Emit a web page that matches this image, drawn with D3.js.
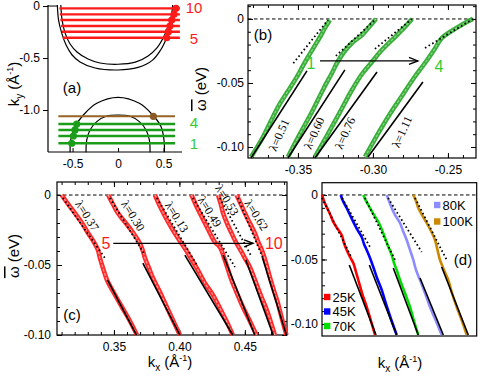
<!DOCTYPE html>
<html>
<head>
<meta charset="utf-8">
<script src="https://cdn.jsdelivr.net/npm/d3@7"></script>
<style>
body { margin: 0; background: #fff; }
svg { display: block; font-family: "Liberation Sans", Arial, sans-serif; }
</style>
</head>
<body>
<svg id="fig" width="487" height="377"></svg>
<script>
// ---------- panel (a): Fermi surface contours, cuts and kF points ----------
const fsUpperOuter = [[-0.667,0.01],[-0.654,-0.135],[-0.619,-0.26],[-0.571,-0.375],[-0.505,-0.471],[-0.418,-0.538],[-0.253,-0.596],[0,-0.615],
    [0.22,-0.59],[0.38,-0.52],[0.47,-0.42],[0.535,-0.305],[0.58,-0.2],[0.62,-0.1],[0.64,0.01]];
const fsUpperInner = [[-0.629,0.01],[-0.615,-0.135],[-0.582,-0.26],[-0.527,-0.365],[-0.451,-0.442],[-0.33,-0.51],[-0.198,-0.548],[0,-0.56],
    [0.19,-0.54],[0.33,-0.48],[0.43,-0.4],[0.5,-0.3],[0.55,-0.2],[0.585,-0.1],[0.6,0.01]];
const fsLowerOuter = [[-0.527,-1.407],[-0.52,-1.288],[-0.473,-1.16],[-0.381,-1.048],[-0.234,-0.936],[0,-0.878],
    [0.234,-0.936],[0.381,-1.048],[0.473,-1.16],[0.505,-1.288],[0.51,-1.407]];
const fsLowerInner = [[-0.352,-1.407],[-0.344,-1.288],[-0.308,-1.192],[-0.234,-1.112],[-0.124,-1.058],[0,-1.048],
    [0.124,-1.058],[0.234,-1.112],[0.308,-1.192],[0.344,-1.288],[0.352,-1.407]];

const redCutKy   = [-0.305,-0.247,-0.192,-0.135,-0.08,-0.022];   // cuts 5..10
const redCutFrom = [-0.608,-0.618,-0.627,-0.634,-0.64,-0.645];
const redCutTo   = 0.68;
const redKf      = [0.535,0.553,0.571,0.59,0.615,0.637];
const greenCutKy = [-1.32,-1.25,-1.192,-1.135];                   // cuts 1..4
const greenKf    = [-0.509,-0.491,-0.473,-0.454];
const greenCutFrom = -0.656, greenCutTo = 0.626;
const brownCutKy = -1.061, brownKf = 0.388;

// ---------- panel (b): dispersions along cuts 1..4 ----------
const bCurves = [
  [[-0.3813,-0.1078],[-0.3733,-0.0922],[-0.3633,-0.0688],[-0.3553,-0.0539],[-0.3507,-0.0453],[-0.3467,-0.0367],[-0.3433,-0.0297],[-0.3393,-0.0219],[-0.3353,-0.0141],[-0.3320,-0.007],[-0.3287,-0.0008]],
  [[-0.3567,-0.1078],[-0.3487,-0.0898],[-0.3407,-0.0727],[-0.3327,-0.0539],[-0.3273,-0.0422],[-0.3240,-0.0344],[-0.3193,-0.0258],[-0.3140,-0.0188],[-0.3073,-0.0125],[-0.3020,-0.0055],[-0.2980,0]],
  [[-0.3387,-0.1078],[-0.3300,-0.0898],[-0.3220,-0.0727],[-0.3140,-0.0555],[-0.3073,-0.043],[-0.3007,-0.0336],[-0.2953,-0.0258],[-0.2900,-0.0195],[-0.2853,-0.0141],[-0.2793,-0.007],[-0.2740,0]],
  [[-0.3053,-0.1078],[-0.2967,-0.0898],[-0.2887,-0.0742],[-0.2807,-0.0602],[-0.2727,-0.0461],[-0.2653,-0.0344],[-0.2593,-0.0242],[-0.2540,-0.0148],[-0.2453,-0.0078],[-0.2387,-0.0031],[-0.2333,0]]
];
const bFits = [
  [[-0.3813,-0.1086],[-0.3440,-0.0406]],
  [[-0.3567,-0.1086],[-0.3187,-0.0398]],
  [[-0.3387,-0.1086],[-0.2973,-0.0414]],
  [[-0.3033,-0.1078],[-0.2667,-0.0492]]
];
const bBare = [
  [[-0.3531,-0.0346],[-0.3300,-0.0008]],
  [[-0.3247,-0.0289],[-0.2980,0]],
  [[-0.2987,-0.0234],[-0.2740,0]],
  [[-0.2653,-0.0227],[-0.2333,0]]
];
const bLambda = ["λ=0.51","λ=0.60","λ=0.76","λ=1.11"];
const bLambdaAt = [[-0.3627,-0.0906],[-0.3393,-0.0891],[-0.3187,-0.0891],[-0.2807,-0.088]];

// ---------- panel (c): dispersions along cuts 5..10 ----------
const cCurves = [
  [[0.3101,0],[0.3149,-0.0064],[0.3202,-0.0129],[0.3256,-0.02],[0.3302,-0.0271],[0.3347,-0.0336],[0.3378,-0.0393],[0.3393,-0.045],[0.3416,-0.0521],[0.3447,-0.0607],[0.3500,-0.07],[0.3561,-0.08],[0.3622,-0.09],[0.3676,-0.1]],
  [[0.3456,0],[0.3492,-0.0064],[0.3530,-0.0129],[0.3584,-0.0193],[0.3637,-0.0257],[0.3683,-0.0321],[0.3714,-0.0379],[0.3737,-0.045],[0.3767,-0.0521],[0.3798,-0.0593],[0.3844,-0.0679],[0.3897,-0.0786],[0.3950,-0.0893],[0.4004,-0.1]],
  [[0.3813,0],[0.3851,-0.0079],[0.3897,-0.0164],[0.3950,-0.025],[0.4004,-0.0329],[0.4050,-0.0393],[0.4095,-0.0464],[0.4141,-0.0536],[0.4195,-0.0629],[0.4256,-0.0714],[0.4309,-0.0807],[0.4363,-0.0907],[0.4408,-0.1]],
  [[0.4093,0],[0.4126,-0.0071],[0.4156,-0.0129],[0.4195,-0.02],[0.4233,-0.0271],[0.4271,-0.0336],[0.4309,-0.0371],[0.4347,-0.0464],[0.4398,-0.0607],[0.4439,-0.07],[0.4485,-0.08],[0.4538,-0.09],[0.4589,-0.1]],
  [[0.4296,0],[0.4316,-0.0064],[0.4334,-0.0129],[0.4363,-0.02],[0.4398,-0.0271],[0.4431,-0.0336],[0.4475,-0.0407],[0.4508,-0.0464],[0.4538,-0.0514],[0.4569,-0.0586],[0.4592,-0.0643],[0.4630,-0.0736],[0.4668,-0.0821],[0.4698,-0.0907],[0.4729,-0.1]],
  [[0.4437,0],[0.4469,-0.0064],[0.4500,-0.0129],[0.4538,-0.02],[0.4576,-0.0271],[0.4599,-0.0329],[0.4630,-0.0393],[0.4660,-0.0479],[0.4691,-0.0586],[0.4721,-0.0679],[0.4752,-0.0771],[0.4782,-0.0879],[0.4818,-0.1]]
];
const cFits = [
  [[0.3450,-0.0607],[0.3673,-0.1]],
  [[0.3721,-0.0486],[0.4004,-0.1]],
  [[0.4042,-0.0429],[0.4408,-0.1]],
  [[0.4334,-0.0429],[0.4576,-0.1]],
  [[0.4508,-0.0464],[0.4716,-0.1]],
  [[0.4635,-0.045],[0.4818,-0.1]]
];
const cBare = [
  [[0.3110,-0.0021],[0.3431,-0.045]],
  [[0.3469,-0.0021],[0.3737,-0.0429]],
  [[0.3828,-0.0021],[0.4134,-0.05]],
  [[0.4103,-0.0021],[0.4424,-0.0514]],
  [[0.4309,-0.0021],[0.4553,-0.0443]],
  [[0.4447,-0.0021],[0.4637,-0.045]]
];
const cLambda = ["λ=0.37","λ=0.30","λ=0.13","λ=0.49","λ=0.53","λ=0.62"];
const cLambdaAt = [[0.3296,-0.0148],[0.3647,-0.0148],[0.3981,-0.0157],[0.4233,-0.0119],[0.4365,-0.0036],[0.4589,-0.0143]];

// ---------- panel (d): temperature dependence ----------
const temps = ["25K","45K","70K","80K","100K"];
const tempColors = ["#ff0000","#0000ff","#00dd00","#8c8cff","#cc8800"];
const dCurves = [
  [[0.300,0],[0.302,-0.0047],[0.3047,-0.0093],[0.308,-0.0147],[0.3113,-0.0209],[0.315,-0.0256],[0.3197,-0.031],[0.322,-0.0372],[0.3247,-0.0426],[0.328,-0.0481],[0.3313,-0.0527],[0.334,-0.0597],[0.3363,-0.0659],[0.340,-0.076],[0.3447,-0.0868],[0.349,-0.0977],[0.353,-0.1085]],
  [[0.3187,0],[0.321,-0.0047],[0.3247,-0.0101],[0.328,-0.0155],[0.3313,-0.0209],[0.335,-0.0264],[0.3397,-0.0326],[0.342,-0.038],[0.3447,-0.0426],[0.348,-0.0488],[0.3513,-0.0558],[0.355,-0.0643],[0.3597,-0.0736],[0.364,-0.0845],[0.369,-0.0961],[0.3747,-0.1085]],
  [[0.3413,0],[0.344,-0.0047],[0.348,-0.0101],[0.352,-0.0155],[0.3563,-0.0209],[0.360,-0.0271],[0.363,-0.0333],[0.366,-0.0395],[0.3697,-0.0465],[0.372,-0.0527],[0.3747,-0.0581],[0.378,-0.0659],[0.383,-0.076],[0.388,-0.0868],[0.392,-0.0977],[0.3963,-0.1085]],
  [[0.3647,0],[0.367,-0.0047],[0.3697,-0.0101],[0.373,-0.0155],[0.378,-0.0217],[0.381,-0.0279],[0.3847,-0.0349],[0.388,-0.0426],[0.3913,-0.0504],[0.394,-0.0581],[0.398,-0.0659],[0.403,-0.076],[0.408,-0.0868],[0.414,-0.0977],[0.4197,-0.1085]],
  [[0.3913,0],[0.394,-0.0047],[0.3963,-0.0101],[0.400,-0.0155],[0.4047,-0.0217],[0.409,-0.0279],[0.413,-0.0349],[0.4155,-0.0426],[0.418,-0.0504],[0.422,-0.0581],[0.4263,-0.0659],[0.430,-0.076],[0.4347,-0.0868],[0.440,-0.0977],[0.4447,-0.1085]]
];
const dFits = [
  [[0.3273,-0.0543],[0.354,-0.1085]],
  [[0.3473,-0.0543],[0.3747,-0.1085]],
  [[0.3713,-0.0566],[0.3963,-0.1085]],
  [[0.398,-0.0643],[0.4213,-0.1085]],
  [[0.4197,-0.0558],[0.4463,-0.1085]]
];
const dBare = [
  [[0.300,-0.0023],[0.3297,-0.0488]],
  [[0.320,-0.0023],[0.348,-0.0403]],
  [[0.343,-0.0023],[0.373,-0.0504]],
  [[0.366,-0.0023],[0.3997,-0.0442]],
  [[0.393,-0.0023],[0.4247,-0.0504]]
];

// ---------- helpers ----------
const svg = d3.select("#fig");
svg.append("rect").attr("width", 487).attr("height", 377).attr("fill", "#fff");
const fmt2 = d => d === 0 ? "0" : d.toFixed(2);
const fmt1 = d => d === 0 ? "0" : d.toFixed(1);

function axis(g, fn, scale, vals, size, fmt, pad, tx, ty) {
    const a = fn(scale).tickValues(vals).tickSize(size).tickSizeOuter(0).tickPadding(pad)
        .tickFormat(fmt || (() => ""));
    const gg = g.append("g").attr("transform", `translate(${tx},${ty})`).call(a);
    gg.attr("font-size", 12).attr("font-family", "Liberation Sans, Arial, sans-serif");
    gg.select(".domain").remove();
    gg.selectAll("line").attr("stroke", "#000").attr("stroke-width", 1);
    gg.selectAll("text").attr("fill", "#000");
    return gg;
}

// framed panel with inward ticks
function framed(x, y, o) {
    const g = svg.append("g");
    const [xl, xr] = x.range(), [yt, yb] = y.range();
    if (o.yMaj) {
        axis(g, d3.axisLeft, y, o.yMaj, -5, fmt2, o.yPad, xl, 0);
        axis(g, d3.axisLeft, y, o.yMin, -3, null, 0, xl, 0);
        if (o.right) {
            axis(g, d3.axisRight, y, o.yMaj, -5, null, 0, xr, 0);
            axis(g, d3.axisRight, y, o.yMin, -3, null, 0, xr, 0);
        }
    }
    if (o.xMaj) {
        axis(g, d3.axisBottom, x, o.xMaj, -5, o.xLabels ? fmt2 : null, 7, 0, yb);
        axis(g, d3.axisBottom, x, o.xMin, -3, null, 0, 0, yb);
        if (o.top) {
            axis(g, d3.axisTop, x, o.xMaj, -5, null, 0, 0, yt);
            axis(g, d3.axisTop, x, o.xMin, -3, null, 0, 0, yt);
        }
    }
    g.append("rect").attr("x", xl).attr("y", yt).attr("width", xr - xl).attr("height", yb - yt)
        .attr("fill", "none").attr("stroke", "#000").attr("stroke-width", 1.2);
    // zero-energy dashed line
    g.append("line").attr("x1", xl).attr("x2", xr).attr("y1", y(0)).attr("y2", y(0))
        .attr("stroke", "#000").attr("stroke-width", 1).attr("stroke-dasharray", "3.5,2.5");
    return g;
}

function seg(g, line, pts, style) {
    const p = g.append("path").attr("d", line(pts)).attr("fill", "none");
    Object.entries(style).forEach(([k, v]) => p.attr(k, v));
    return p;
}

function omegaLabel(x, y) {
    const t = svg.append("text").attr("font-size", 15).attr("text-anchor", "middle")
        .attr("transform", `translate(${x},${y}) rotate(-90)`);
    t.append("tspan").text("ω").style("text-decoration", "overline");
    t.append("tspan").text(" (eV)");
}

function kAxisLabel(x, y, sub, rotate) {
    const t = svg.append("text").attr("font-size", 15).attr("text-anchor", "middle")
        .attr("transform", `translate(${x},${y})` + (rotate ? " rotate(-90)" : ""));
    t.append("tspan").text("k");
    t.append("tspan").text(sub).attr("font-size", 10).attr("dy", 4);
    t.append("tspan").text(" (Å").attr("dy", -4);
    t.append("tspan").text("-1").attr("font-size", 9).attr("dy", -6);
    t.append("tspan").text(")").attr("dy", 6);
}

function arrow(g, x1, x2, y) {
    g.append("line").attr("x1", x1).attr("x2", x2).attr("y1", y).attr("y2", y)
        .attr("stroke", "#000").attr("stroke-width", 1.3);
    g.append("path").attr("d", `M${x2 - 9},${y - 3.5}L${x2},${y}L${x2 - 9},${y + 3.5}`)
        .attr("fill", "none").attr("stroke", "#000").attr("stroke-width", 1.3);
}

const fitStyle = { stroke: "#000", "stroke-width": 1.6 };
const bareStyle = { stroke: "#000", "stroke-width": 1.8, "stroke-dasharray": "1.6,2.6" };

// ---------- panel (a) ----------
{
    const x = d3.scaleLinear().domain([-0.77, 0.703]).range([48, 182]);
    const y = d3.scaleLinear().domain([0.01, -1.404]).range([5, 152]);
    const g = svg.append("g");
    const line = d3.line().x(d => x(d[0])).y(d => y(d[1])).curve(d3.curveCatmullRom);
    const straight = d3.line().x(d => x(d[0])).y(d => y(d[1]));

    [fsUpperOuter, fsUpperInner, fsLowerOuter, fsLowerInner].forEach(c =>
        seg(g, line, c, { stroke: "#000", "stroke-width": 1.2 }));

    redCutKy.forEach((ky, i) => seg(g, straight, [[redCutFrom[i], ky], [redCutTo, ky]],
        { stroke: "#ff1a1a", "stroke-width": 2.4 }));
    greenCutKy.forEach(ky => seg(g, straight, [[greenCutFrom, ky], [greenCutTo, ky]],
        { stroke: "#1a9e1a", "stroke-width": 2.4 }));
    seg(g, straight, [[greenCutFrom, brownCutKy], [greenCutTo, brownCutKy]],
        { stroke: "#9a6324", "stroke-width": 2 });

    g.selectAll(".rk").data(redKf).join("circle").attr("cx", d => x(d))
        .attr("cy", (d, i) => y(redCutKy[i])).attr("r", 3.6).attr("fill", "#ff1a1a");
    g.selectAll(".gk").data(greenKf).join("circle").attr("cx", d => x(d))
        .attr("cy", (d, i) => y(greenCutKy[i])).attr("r", 3.6).attr("fill", "#1a9e1a");
    g.append("circle").attr("cx", x(brownKf)).attr("cy", y(brownCutKy)).attr("r", 3.6).attr("fill", "#8b5a24");

    // axes: left (outward ticks) and bottom (inward ticks)
    axis(g, d3.axisLeft, y, [0, -0.5, -1.0], 5, fmt1, 3, 48, 0);
    axis(g, d3.axisBottom, x, [-0.5, 0, 0.5], -4, fmt1, 7, 0, 152);
    g.append("line").attr("x1", 48).attr("x2", 48).attr("y1", 5).attr("y2", 152).attr("stroke", "#000").attr("stroke-width", 1.2);
    g.append("line").attr("x1", 48).attr("x2", 182).attr("y1", 152).attr("y2", 152).attr("stroke", "#000").attr("stroke-width", 1.2);
    g.append("line").attr("x1", 48).attr("x2", 58).attr("y1", y(0)).attr("y2", y(0)).attr("stroke", "#000").attr("stroke-width", 1);

    const lab = (t, ky, c) => g.append("text").attr("x", 194).attr("y", y(ky)).attr("dy", "0.35em")
        .attr("text-anchor", "middle").attr("font-size", 15).attr("fill", c).text(t);
    lab("10", redCutKy[5] + 0.01, "#ff1a1a");
    lab("5", redCutKy[0] - 0.01, "#ff1a1a");
    lab("4", greenCutKy[3] + 0.01, "#33cc33");
    lab("1", greenCutKy[0] - 0.005, "#33cc33");
    g.append("text").attr("x", 72).attr("y", 93).attr("text-anchor", "middle").attr("font-size", 15).text("(a)");
    kAxisLabel(19, 84, "y", true);
}

// ---------- panel (b) ----------
{
    const x = d3.scaleLinear().domain([-0.3833, -0.2313]).range([248, 476]);
    const y = d3.scaleLinear().domain([0.0109, -0.1086]).range([5, 158]);
    const g = framed(x, y, {
        yMaj: [0, -0.05, -0.1], yMin: d3.range(-10, 2).map(i => i / 100), yPad: 4,
        xMaj: [-0.35, -0.3, -0.25], xMin: d3.range(-38, -23).map(i => i / 100), xLabels: true,
        right: true, top: true
    });
    const line = d3.line().x(d => x(d[0])).y(d => y(d[1])).curve(d3.curveCatmullRom);
    bCurves.forEach(c => {
        seg(g, line, c, { stroke: "#3aae3a", "stroke-width": 4.6 });
        seg(g, line, c, { stroke: "#8fd68f", "stroke-width": 1.2, "stroke-dasharray": "3,1.5" });
    });
    bFits.forEach(c => seg(g, line, c, fitStyle));
    bBare.forEach(c => seg(g, line, c, bareStyle));
    bLambda.forEach((t, i) => g.append("text")
        .attr("transform", `translate(${x(bLambdaAt[i][0])},${y(bLambdaAt[i][1])}) rotate(-66)`)
        .attr("text-anchor", "middle").attr("dy", "0.35em")
        .attr("font-family", "Liberation Serif, Times New Roman, serif").attr("font-size", 12).text(t));
    arrow(g, x(-0.3353), x(-0.27), y(-0.0328));
    g.append("text").attr("x", x(-0.3413)).attr("y", y(-0.0344)).attr("dy", "0.35em").attr("text-anchor", "middle")
        .attr("font-size", 16).attr("fill", "#33cc33").text("1");
    g.append("text").attr("x", x(-0.256)).attr("y", y(-0.0367)).attr("dy", "0.35em").attr("text-anchor", "middle")
        .attr("font-size", 16).attr("fill", "#33cc33").text("4");
    g.append("text").attr("x", 263).attr("y", 40).attr("text-anchor", "middle").attr("font-size", 15).text("(b)");
    omegaLabel(206, 89);
}

// ---------- panel (c) ----------
{
    const x = d3.scaleLinear().domain([0.3065, 0.4822]).range([57, 287]);
    const y = d3.scaleLinear().domain([0.0093, -0.1]).range([182, 335]);
    const g = framed(x, y, {
        yMaj: [0, -0.05, -0.1], yMin: d3.range(-10, 1).map(i => i / 100), yPad: 6,
        xMaj: [0.35, 0.4, 0.45], xMin: d3.range(31, 49).map(i => i / 100), xLabels: true,
        right: true, top: true
    });
    const line = d3.line().x(d => x(d[0])).y(d => y(d[1])).curve(d3.curveCatmullRom);
    cCurves.forEach(c => {
        seg(g, line, c, { stroke: "#ff2a2a", "stroke-width": 4.6 });
        seg(g, line, c, { stroke: "#ff9c9c", "stroke-width": 1.2, "stroke-dasharray": "3,1.5" });
    });
    cFits.forEach(c => seg(g, line, c, fitStyle));
    cBare.forEach(c => seg(g, line, c, bareStyle));
    cLambda.forEach((t, i) => g.append("text")
        .attr("transform", `translate(${x(cLambdaAt[i][0])},${y(cLambdaAt[i][1])}) rotate(58)`)
        .attr("text-anchor", "middle").attr("dy", "0.35em")
        .attr("font-family", "Liberation Serif, Times New Roman, serif").attr("font-size", 12).text(t));
    arrow(g, x(0.3495), x(0.4563), y(-0.0345));
    g.append("text").attr("x", x(0.3439)).attr("y", y(-0.0345)).attr("dy", "0.35em").attr("text-anchor", "middle")
        .attr("font-size", 16).attr("fill", "#ff1a1a").text("5");
    g.append("text").attr("x", x(0.4721)).attr("y", y(-0.0345)).attr("dy", "0.35em").attr("text-anchor", "middle")
        .attr("font-size", 16).attr("fill", "#ff1a1a").text("10");
    g.append("text").attr("x", 72).attr("y", 320).attr("text-anchor", "middle").attr("font-size", 15).text("(c)");
    omegaLabel(19, 256);
    kAxisLabel(170, 367, "x", false);
}

// ---------- panel (d) ----------
{
    const x = d3.scaleLinear().domain([0.300, 0.4547]).range([322, 476.7]);
    const y = d3.scaleLinear().domain([0.0095, -0.1093]).range([182.7, 336]);
    const g = framed(x, y, {
        yMaj: [0, -0.05, -0.1], yMin: d3.range(-10, 1).map(i => i / 100), yPad: 4
    });
    const line = d3.line().x(d => x(d[0])).y(d => y(d[1])).curve(d3.curveCatmullRom);
    dCurves.forEach((c, i) => seg(g, line, c, { stroke: tempColors[i], "stroke-width": 2.6 }));
    dFits.forEach(c => seg(g, line, c, fitStyle));
    dBare.forEach(c => seg(g, line, c, bareStyle));

    const legPos = [[324, 297], [324, 311.5], [324, 326], [434, 205], [434, 221.5]];
    temps.forEach((t, i) => {
        g.append("rect").attr("x", legPos[i][0]).attr("y", legPos[i][1] - 3.2).attr("width", 6.4).attr("height", 6.4)
            .attr("fill", tempColors[i]);
        g.append("text").attr("x", legPos[i][0] + 8.5).attr("y", legPos[i][1]).attr("dy", "0.36em")
            .attr("font-size", 13).text(t);
    });
    g.append("text").attr("x", 463).attr("y", 265).attr("text-anchor", "middle").attr("font-size", 15).text("(d)");
    kAxisLabel(400, 368, "x", false);
}
</script>
</body>
</html>
